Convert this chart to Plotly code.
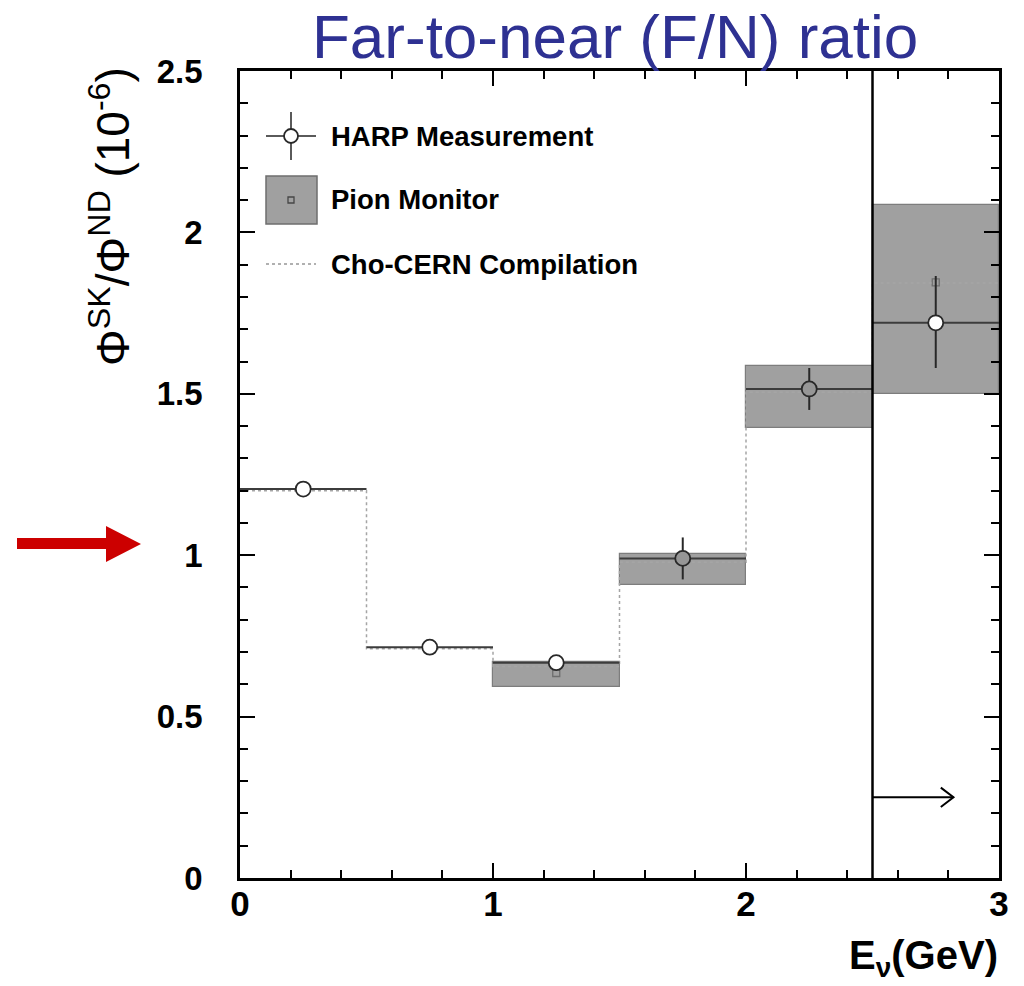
import plotly.graph_objects as go

# ---------------- data ----------------
bin_edges = [0.0, 0.5, 1.0, 1.5, 2.0, 2.5, 3.0]
bin_centers = [0.25, 0.75, 1.25, 1.75, 2.25, 2.75]
bin_halfwidth = [0.25, 0.25, 0.25, 0.25, 0.25, 0.25]

harp_ratio = [1.205, 0.715, 0.667, 0.99, 1.515, 1.72]
harp_err_up = [0.01, 0.01, 0.012, 0.065, 0.065, 0.145]
harp_err_dn = [0.01, 0.01, 0.012, 0.065, 0.065, 0.14]
harp_fill = ["white", "white", "white", "rgb(150,150,150)", "rgb(150,150,150)", "white"]

pion_centers = [1.25, 1.75, 2.25, 2.75]
pion_ratio = [0.635, 0.98, 1.51, 1.845]
pion_top = [0.669, 1.003, 1.585, 2.084]
pion_bottom = [0.591, 0.907, 1.393, 1.500]

cho_cern = [1.20, 0.71, 0.655, 0.978, 1.505, 1.843]

threshold_E = 2.5
arrow_start, arrow_end, arrow_y = 2.5, 2.82, 0.25

x_ticks = [0, 1, 2, 3]
y_ticks = [0, 0.5, 1, 1.5, 2, 2.5]
y_tick_text = ["0", "0.5", "1", "1.5", "2", "2.5"]

# ---------------- layout geometry ----------------
W, H = 1024, 986
ML, MR, MT, MB = 240, 25, 71, 108
PW, PH = W - ML - MR, H - MT - MB


def px(x):
    return (x - ML) / PW


def py(y):
    return (H - MB - y) / PH


FONT = "Liberation Sans, Arial, Helvetica, sans-serif"

fig = go.Figure()

# Pion monitor boxes
fig.add_trace(go.Bar(
    x=pion_centers,
    y=[t - b for t, b in zip(pion_top, pion_bottom)],
    base=pion_bottom,
    width=0.5,
    marker=dict(color="rgb(160,160,160)", line=dict(color="rgb(125,125,125)", width=1.2)),
    showlegend=False, hoverinfo="skip",
))

# Pion monitor central values (small open squares)
fig.add_trace(go.Scatter(
    x=pion_centers, y=pion_ratio, mode="markers",
    marker=dict(symbol="square-open", size=7, color="rgb(110,110,110)", line=dict(width=1.3)),
    showlegend=False, hoverinfo="skip",
))

# Cho-CERN compilation (dotted step line)
fig.add_trace(go.Scatter(
    x=bin_edges, y=cho_cern + [cho_cern[-1]], mode="lines",
    line=dict(shape="hv", color="rgb(165,165,165)", width=1.5, dash="dot"),
    showlegend=False, hoverinfo="skip",
))

# HARP measurement
fig.add_trace(go.Scatter(
    x=bin_centers, y=harp_ratio, mode="markers",
    marker=dict(symbol="circle", size=15, color=harp_fill, line=dict(color="rgb(40,40,40)", width=1.8)),
    error_x=dict(type="data", array=bin_halfwidth, color="rgb(60,60,60)", thickness=2, width=0),
    error_y=dict(type="data", symmetric=False, array=harp_err_up, arrayminus=harp_err_dn,
                 color="rgb(40,40,40)", thickness=2, width=0),
    showlegend=False, hoverinfo="skip",
))

shapes = []
# threshold vertical line
shapes.append(dict(type="line", xref="x", yref="paper", x0=threshold_E, x1=threshold_E, y0=0, y1=1,
                   line=dict(color="black", width=2.5)))
# arrow (line + open chevron)
shapes.append(dict(type="line", xref="x", yref="y", x0=arrow_start, x1=arrow_end, y0=arrow_y, y1=arrow_y,
                   line=dict(color="black", width=2)))
shapes.append(dict(type="path", xref="x", yref="y",
                   path=f"M {arrow_end-0.05},{arrow_y+0.03} L {arrow_end},{arrow_y} L {arrow_end-0.05},{arrow_y-0.03}",
                   line=dict(color="black", width=2)))

# legend symbols (paper coords)
shapes.append(dict(type="line", xref="paper", yref="paper", x0=px(266), x1=px(316), y0=py(136), y1=py(136),
                   line=dict(color="rgb(90,90,90)", width=2)))
shapes.append(dict(type="line", xref="paper", yref="paper", x0=px(291), x1=px(291), y0=py(112), y1=py(160),
                   line=dict(color="rgb(90,90,90)", width=2)))
shapes.append(dict(type="circle", xref="paper", yref="paper", x0=px(284), x1=px(298), y0=py(129), y1=py(143),
                   fillcolor="white", line=dict(color="rgb(40,40,40)", width=1.8)))
shapes.append(dict(type="rect", xref="paper", yref="paper", x0=px(266), x1=px(317), y0=py(176), y1=py(224),
                   fillcolor="rgb(160,160,160)", line=dict(color="rgb(110,110,110)", width=1.5)))
shapes.append(dict(type="rect", xref="paper", yref="paper", x0=px(288), x1=px(294), y0=py(197), y1=py(203),
                   line=dict(color="rgb(70,70,70)", width=1.3)))
shapes.append(dict(type="line", xref="paper", yref="paper", x0=px(266), x1=px(316), y0=py(264), y1=py(264),
                   line=dict(color="rgb(150,150,150)", width=1.3, dash="dot")))

# red arrow on the left
shapes.append(dict(type="path", xref="paper", yref="paper",
                   path=(f"M {px(17)},{py(538)} L {px(106)},{py(538)} L {px(106)},{py(526)} "
                         f"L {px(141)},{py(544)} L {px(106)},{py(562)} L {px(106)},{py(549)} "
                         f"L {px(17)},{py(549)} Z"),
                   fillcolor="rgb(204,0,0)", line=dict(width=0)))

annotations = []
legend_font = dict(family=FONT, size=27.5, color="black", weight="bold")
for text, yy in [("HARP Measurement", 136), ("Pion Monitor", 200), ("Cho-CERN Compilation", 264)]:
    annotations.append(dict(text=text, xref="paper", yref="paper", x=px(329), y=py(yy),
                            xanchor="left", yanchor="middle", showarrow=False, font=legend_font))

# title
annotations.append(dict(text="Far-to-near (F/N) ratio", xref="paper", yref="paper", x=px(615), y=py(37),
                        xanchor="center", yanchor="middle", showarrow=False,
                        font=dict(family=FONT, size=62, color="rgb(46,49,146)")))
# y axis title
annotations.append(dict(text="Φ<sup>SK</sup>/Φ<sup>ND</sup> (10<sup>-6</sup>)", xref="paper", yref="paper",
                        x=px(110), y=py(217), xanchor="center", yanchor="middle", textangle=-90,
                        showarrow=False, font=dict(family=FONT, size=46, color="black")))
# x axis title
annotations.append(dict(text="E<sub>ν</sub>(GeV)", xref="paper", yref="paper",
                        x=px(1000), y=py(958), xanchor="right", yanchor="middle",
                        showarrow=False, font=dict(family=FONT, size=40, color="black", weight="bold")))

axis_common = dict(showline=True, linecolor="black", linewidth=2.5, mirror="ticks",
                   ticks="inside", ticklen=15, tickwidth=2, tickcolor="black",
                   showgrid=False, zeroline=False)

fig.update_layout(
    width=W, height=H,
    margin=dict(l=ML, r=MR, t=MT, b=MB),
    paper_bgcolor="white", plot_bgcolor="white",
    showlegend=False, bargap=0,
    xaxis=dict(range=[0, 3], tickvals=x_ticks,
               tickfont=dict(family=FONT, size=35, color="black", weight="bold"),
               ticklabelstandoff=-7,
               minor=dict(dtick=0.2, ticks="inside", ticklen=8, tickwidth=2, tickcolor="black"),
               **axis_common),
    yaxis=dict(range=[0, 2.5], tickvals=y_ticks, ticktext=y_tick_text,
               tickfont=dict(family=FONT, size=33, color="black", weight="bold"),
               ticklabelstandoff=28,
               minor=dict(dtick=0.1, ticks="inside", ticklen=8, tickwidth=2, tickcolor="black"),
               **axis_common),
    shapes=shapes,
    annotations=annotations,
)

fig.write_html("out.html")
